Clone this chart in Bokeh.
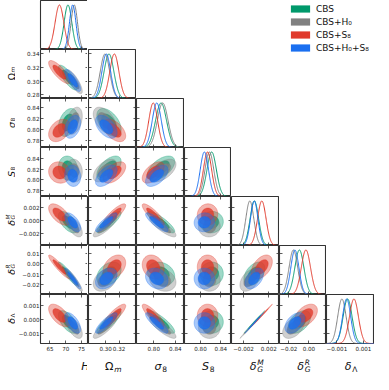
import numpy as np
from bokeh.plotting import figure
from bokeh.models import (GridBox, Range1d, LinearAxis, FixedTicker,
                          Legend, LegendItem)
from bokeh.core.properties import value
from bokeh.embed import file_html
from bokeh.resources import INLINE

# ---------------- data ----------------
datasets = ["CBS", "CBS+H₀", "CBS+S₈", "CBS+H₀+S₈"]
colors = ["#00996b", "#808080", "#e0392b", "#1a6ff0"]

# parameter order: H0, Omega_m, sigma8, S8, dG^M, dG^R, dLambda
mean_cbs       = [70.7, 0.305, 0.8135, 0.8220, -0.00028, -0.0095, -0.00017]
mean_cbs_h0    = [72.7, 0.299, 0.8166, 0.8175, -0.00100, -0.0155, -0.00059]
mean_cbs_s8    = [68.0, 0.313, 0.7990, 0.8138,  0.00090, -0.0030,  0.00030]
mean_cbs_h0s8  = [72.2, 0.301, 0.8056, 0.8076, -0.00030, -0.0140, -0.00024]
sigma_cbs      = [1.22, 0.0073, 0.0102, 0.0092, 0.00067, 0.0045, 0.00033]
sigma_cbs_h0   = [1.02, 0.0070, 0.0099, 0.0086, 0.00063, 0.0043, 0.00031]
sigma_cbs_s8   = [1.38, 0.0068, 0.0082, 0.0081, 0.00067, 0.0046, 0.00033]
sigma_cbs_h0s8 = [1.02, 0.0065, 0.0084, 0.0081, 0.00059, 0.0040, 0.00030]

# correlation coefficients, lower triangle (row parameter vs column parameter)
corr_lower = [
    [],
    [-0.80],
    [0.35, -0.50],
    [-0.10, 0.55, 0.55],
    [-0.60, 0.85, -0.85, 0.05],
    [-0.93, 0.35, -0.20, 0.00, 0.45],
    [-0.60, 0.85, -0.85, 0.00, 0.998, 0.45],
]

range_lo = [62.0, 0.2745, 0.768, 0.7685, -0.0039, -0.0293, -0.00173]
range_hi = [77.2, 0.3460, 0.857, 0.8610, 0.0037, 0.0175, 0.00182]

xtick_vals = [[65, 70, 75], [0.30, 0.32], [0.80, 0.84], [0.80, 0.84],
              [-0.002, 0.002], [-0.02, 0.0], [-0.001, 0.001]]
xtick_text = [["65", "70", "75"], ["0.30", "0.32"], ["0.80", "0.84"], ["0.80", "0.84"],
              ["−0.002", "0.002"], ["−0.02", "0.00"], ["−0.001", "0.001"]]
ytick_vals = [[], [0.28, 0.30, 0.32, 0.34], [0.78, 0.80, 0.82, 0.84],
              [0.78, 0.80, 0.82, 0.84], [-0.002, 0.0, 0.002],
              [-0.02, -0.01, 0.0, 0.01], [-0.001, 0.0, 0.001]]
ytick_text = [[], ["0.28", "0.30", "0.32", "0.34"], ["0.78", "0.80", "0.82", "0.84"],
              ["0.78", "0.80", "0.82", "0.84"], ["−0.002", "0.000", "0.002"],
              ["−0.02", "−0.01", "0.00", "0.01"], ["−0.001", "0.000", "0.001"]]

lab_main = ["H", "Ω", "σ", "S", "δ", "δ", "δ"]
lab_italic = [True, False, True, True, True, True, True]
lab_sub = ["0", "m", "8", "8", "G", "G", "Λ"]
lab_sup = ["", "", "", "", "M", "R", ""]

means = [mean_cbs, mean_cbs_h0, mean_cbs_s8, mean_cbs_h0s8]
sigmas = [sigma_cbs, sigma_cbs_h0, sigma_cbs_s8, sigma_cbs_h0s8]

# ---------------- layout ----------------
N = 7
col_w = [48, 48, 48, 47, 48, 47, 48]
row_h = [49] * 7
YLAB_W = 15      # width of the y-label strip
LEFT = 24        # room for y tick labels
BOTTOM = 10      # room for x tick labels
XLAB_H = 20      # height of the x-label strip
FONT = "DejaVu Sans"
TICK_COLOR = "#333333"
TICK_FONT = "5.6px"
R68, R95 = 1.515, 2.486
t = np.linspace(0, 2 * np.pi, 160)


def plain_fig(w, h, xr=None, yr=None):
    p = figure(frame_width=w, frame_height=h,
               x_range=xr if xr is not None else Range1d(0, w),
               y_range=yr if yr is not None else Range1d(0, h),
               x_axis_type=None, y_axis_type=None,
               toolbar_location=None, output_backend="svg")
    p.min_border = 0
    p.min_border_left = 0
    p.min_border_right = 0
    p.min_border_top = 0
    p.min_border_bottom = 0
    p.outline_line_color = None
    p.background_fill_color = "white"
    p.border_fill_color = "white"
    return p


def add_axis(p, side, vals, texts=None, fixed=None, range_name=None):
    ax = LinearAxis(ticker=FixedTicker(ticks=list(vals)))
    if range_name is not None:
        ax.y_range_name = range_name
    ax.axis_line_color = None
    ax.major_tick_line_color = TICK_COLOR
    ax.major_tick_line_width = 0.8
    ax.major_tick_in = 3
    ax.major_tick_out = 0
    ax.minor_tick_line_color = None
    if texts is None:
        ax.fixed_location = fixed
        ax.major_label_text_color = None
        ax.major_label_standoff = 0
    else:
        ax.major_label_overrides = {v: s for v, s in zip(vals, texts)}
        ax.major_label_text_font_size = TICK_FONT
        ax.major_label_text_font = FONT
        ax.major_label_text_color = "#222222"
        ax.major_label_standoff = 1 if side == "left" else 2
    p.add_layout(ax, side)


def put_text(p, x, y, txt, ang, align, size, italic):
    p.text(x=[x], y=[y], text=[txt], angle=ang, text_align=value(align),
           text_baseline=value("alphabetic"), text_font=value(FONT),
           text_font_size=value(size),
           text_font_style=value("italic" if italic else "normal"),
           text_color="#111111")


def add_math_label(p, k, x0, y0, vertical, big, small, sub_off, sup_off):
    # strip figures use pixel-sized ranges, so offsets are in pixels
    if vertical:
        ang = np.pi / 2
        a = (x0, y0 + 1)
        sub = (x0 + sub_off, y0 + 1.5)
        sup = (x0 - sup_off, y0 + 1.5)
    else:
        ang = 0.0
        a = (x0 + 1, y0)
        sub = (x0 + 1.8, y0 - sub_off)
        sup = (x0 + 1.8, y0 + sup_off)
    put_text(p, a[0], a[1], lab_main[k], ang, "right", big, lab_italic[k])
    put_text(p, sub[0], sub[1], lab_sub[k], ang, "left", small,
             lab_sub[k] in ("m", "G"))
    if lab_sup[k]:
        put_text(p, sup[0], sup[1], lab_sup[k], ang, "left", small, True)


def base_fig(i, j):
    yr = Range1d(0, 1.1) if i == j else Range1d(range_lo[i], range_hi[i])
    p = plain_fig(col_w[j], row_h[i], Range1d(range_lo[j], range_hi[j]), yr)
    p.min_border_left = LEFT if j == 0 else 0
    p.min_border_bottom = BOTTOM if i == N - 1 else 0
    p.outline_line_color = "#333333"
    p.outline_line_width = 1.1
    return p


children = []
for i in range(N):
    for j in range(i + 1):
        p = base_fig(i, j)
        if i == j:
            xs = np.linspace(range_lo[j], range_hi[j], 260)
            for m, s, c in zip(means, sigmas, colors):
                ys = np.exp(-0.5 * ((xs - m[j]) / s[j]) ** 2)
                p.line(xs, ys, line_color=c, line_width=1.0)
            if i > 0:
                p.extra_y_ranges = {"par": Range1d(range_lo[i], range_hi[i])}
                add_axis(p, "left", ytick_vals[i], fixed=range_lo[j], range_name="par")
        else:
            rho = corr_lower[i][j]
            for m, s, c in zip(means, sigmas, colors):
                for r, fa in ((R95, 0.38), (R68, 0.8)):
                    ex = m[j] + r * s[j] * np.cos(t)
                    ey = m[i] + r * s[i] * (rho * np.cos(t) + np.sqrt(1 - rho ** 2) * np.sin(t))
                    p.patch(ex, ey, fill_color=c, fill_alpha=fa, line_color=c,
                            line_alpha=0.55, line_width=0.6)
            if j == 0:
                add_axis(p, "left", ytick_vals[i], texts=ytick_text[i])
            else:
                add_axis(p, "left", ytick_vals[i], fixed=range_lo[j])
            add_axis(p, "right", ytick_vals[i], fixed=range_hi[j])
            add_axis(p, "above", xtick_vals[j], fixed=range_hi[i])
        if i == N - 1:
            add_axis(p, "below", xtick_vals[j], texts=xtick_text[j])
        else:
            add_axis(p, "below", xtick_vals[j],
                     fixed=(0 if i == j else range_lo[i]))
        children.append((p, i, j + 1))

# y-label strip (left) and x-label strip (bottom)
for i in range(1, N):
    lp = plain_fig(YLAB_W, row_h[i])
    add_math_label(lp, i, 10.5, row_h[i] / 2, vertical=True, big="9.5px",
                   small="5.8px", sub_off=1.8, sup_off=3.2)
    children.append((lp, i, 0))
for j in range(N):
    pad = LEFT if j == 0 else 0          # first column also carries the tick-label border
    lp = plain_fig(col_w[j] + pad, XLAB_H)
    add_math_label(lp, j, pad + col_w[j] / 2, 7, vertical=False, big="11px",
                   small="7.5px", sub_off=2.5, sup_off=3.6)
    children.append((lp, N, j + 1))

# legend panel in the empty upper-right corner
leg_w = col_w[4] + col_w[5] + col_w[6]
leg_h = row_h[0] + row_h[1]
leg = plain_fig(leg_w, leg_h)
items = []
for k, (name, c) in enumerate(zip(datasets, colors)):
    r = leg.quad(left=[k], right=[k], top=[k], bottom=[k], fill_color=c,
                 line_color=None, visible=False)
    items.append(LegendItem(label=name, renderers=[r]))
legend = Legend(items=items, location=(57, leg_h - 54), padding=0, spacing=0,
                margin=0, glyph_width=24, glyph_height=9, label_height=13,
                label_standoff=4, label_text_font_size="9px",
                label_text_font=FONT, label_text_color="#111111",
                border_line_color=None, background_fill_alpha=0,
                inactive_fill_alpha=0)
leg.add_layout(legend)
children.append((leg, 0, 5, 2, 3))

grid = GridBox(children=children, spacing=0)

open("out.html", "w").write(file_html(grid, INLINE))
